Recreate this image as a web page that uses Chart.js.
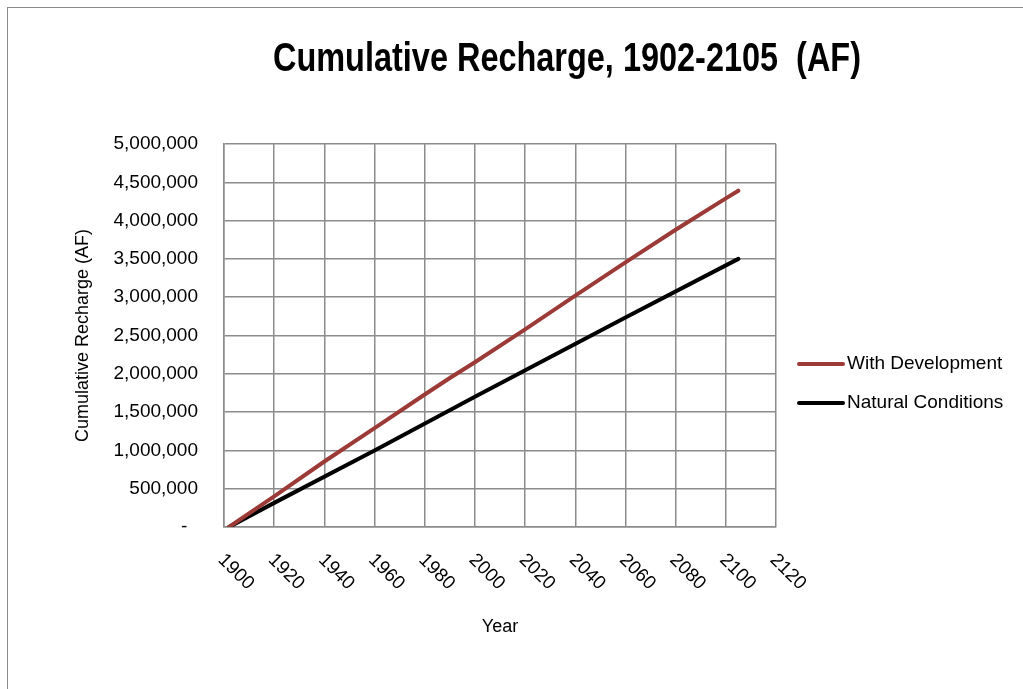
<!DOCTYPE html>
<html><head><meta charset="utf-8">
<script src="https://cdn.jsdelivr.net/npm/chart.js@4/dist/chart.umd.min.js"></script>
<style>
html,body{margin:0;padding:0;background:#fff;overflow:hidden;}
#wrap{position:relative;width:1023px;height:689px;overflow:hidden;}
#frame{position:absolute;left:7px;top:7px;width:1100px;height:800px;border-left:1px solid #8a8a8a;border-top:1px solid #8a8a8a;pointer-events:none;}
canvas{position:absolute;left:0;top:0;}
</style></head><body>
<div id="wrap"><canvas id="c" width="1023" height="689"></canvas><div id="frame"></div></div>
<script>
const titleText = 'Cumulative Recharge, 1902-2105  (AF)';
const xAxisTitle = 'Year';
const yAxisTitle = 'Cumulative Recharge (AF)';
const seriesNames = ['With Development', 'Natural Conditions'];
const seriesColors = ['#9b3a37', '#000000'];

const devYears  = [1902, 1920, 1940, 1960, 1980, 1990, 2000, 2020, 2040, 2060, 2080, 2100, 2105];
const devValues = [0, 400000, 855000, 1290000, 1730000, 1945000, 2150000, 2580000, 3020000, 3455000, 3880000, 4290000, 4390000];
const natYears  = [1902, 1920, 1960, 2000, 2060, 2105];
const natValues = [0, 315000, 1000000, 1700000, 2735000, 3500000];

const xMin = 1900, xMax = 2120, xStep = 20;
const yMin = 0, yMax = 5000000, yStep = 500000;

const FONT = '"Liberation Sans", Arial, sans-serif';
const GRID = '#8c8c8c';

function pts(xs, ys){ return xs.map((x,i)=>({x:x, y:ys[i]})); }

const decor = {
  id:'decor',
  afterDraw(chart){
    const ctx = chart.ctx;
    ctx.save();
    // title (condensed to match the narrow bold face of the original)
    ctx.font = 'bold 40px ' + FONT;
    const w = ctx.measureText(titleText).width;
    const sx = 588 / w;
    ctx.fillStyle = '#000';
    ctx.textAlign = 'center';
    ctx.textBaseline = 'alphabetic';
    ctx.save();
    ctx.translate(567, 71);
    ctx.scale(sx, 1);
    ctx.fillText(titleText, 0, 0);
    ctx.restore();
    // rotated x tick labels
    const xs = chart.scales.x;
    ctx.font = '19px ' + FONT;
    ctx.textAlign = 'left';
    ctx.textBaseline = 'middle';
    xs.ticks.forEach(t => {
      const px = xs.getPixelForValue(t.value);
      ctx.save();
      ctx.translate(px - 3, xs.top + 30);
      ctx.rotate(Math.PI/4);
      ctx.fillText(String(t.value), 0, 0);
      ctx.restore();
    });
    // legend
    chart.data.datasets.forEach((ds, i) => {
      const y = 364 + i*39;
      ctx.strokeStyle = ds.borderColor;
      ctx.lineWidth = 4;
      ctx.lineCap = 'round';
      ctx.beginPath(); ctx.moveTo(799, y); ctx.lineTo(843, y); ctx.stroke();
      ctx.fillStyle = '#000';
      ctx.font = '19px ' + FONT;
      ctx.textAlign = 'left';
      ctx.textBaseline = 'middle';
      ctx.fillText(ds.label, 847, y);
    });
    ctx.restore();
  }
};

new Chart(document.getElementById('c'), {
  type: 'line',
  data: {
    datasets: [
      { label: seriesNames[0], data: pts(devYears, devValues), borderColor: seriesColors[0], backgroundColor: seriesColors[0], borderWidth: 4, pointRadius: 0, tension: 0, borderCapStyle: 'round', borderJoinStyle: 'round' },
      { label: seriesNames[1], data: pts(natYears, natValues), borderColor: seriesColors[1], backgroundColor: seriesColors[1], borderWidth: 4, pointRadius: 0, tension: 0, borderCapStyle: 'round', borderJoinStyle: 'round' }
    ]
  },
  options: {
    responsive: false,
    animation: false,
    layout: { padding: { left: 0, top: 144, right: 247, bottom: 0 } },
    plugins: { legend: { display: false }, title: { display: false }, tooltip: { enabled: false } },
    scales: {
      x: {
        type: 'linear', min: xMin, max: xMax,
        ticks: { stepSize: xStep, display: false },
        grid: { color: GRID, lineWidth: 1.5, drawTicks: false },
        border: { color: GRID, width: 1.5 },
        title: { display: true, text: xAxisTitle, color: '#000', font: { family: FONT, size: 18 }, padding: { top: 0, bottom: 51 } },
        afterFit(s){ s.height = 162; }
      },
      y: {
        type: 'linear', min: yMin, max: yMax,
        ticks: { stepSize: yStep, color: '#000', font: { family: FONT, size: 19 }, padding: 26,
          callback: v => v === 0 ? '-  ' : Number(v).toLocaleString('en-US') },
        grid: { color: GRID, lineWidth: 1.5, drawTicks: false },
        border: { color: GRID, width: 1.5 },
        title: { display: true, text: yAxisTitle, color: '#000', font: { family: FONT, size: 18 }, padding: { top: 72, bottom: 0 } },
        afterFit(s){ s.width = 224; }
      }
    }
  },
  plugins: [decor]
});
</script>
</body></html>
